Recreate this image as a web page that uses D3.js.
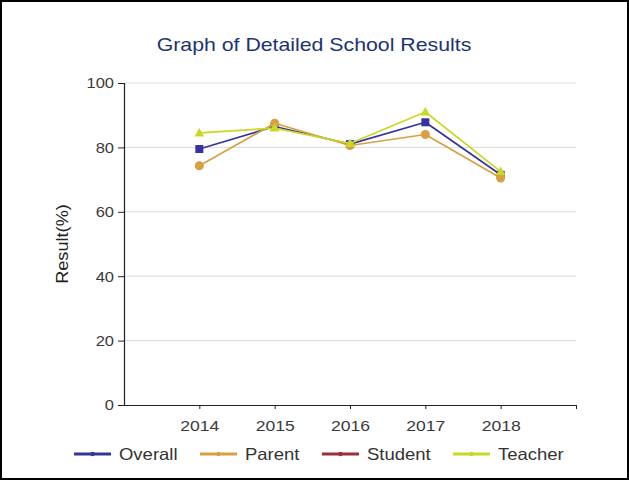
<!DOCTYPE html>
<html>
<head>
<meta charset="utf-8">
<script src="https://cdn.jsdelivr.net/npm/d3@7"></script>
<style>
  html, body { margin: 0; padding: 0; background: #fff; }
  svg { display: block; font-family: "Liberation Sans", Arial, sans-serif; }
</style>
</head>
<body>
<svg id="chart" width="629" height="480"></svg>
<script>
// School survey results by year
const years = [2014, 2015, 2016, 2017, 2018];
const overallValues = [79.5, 86.5, 81, 87.8, 71.5];
const parentValues  = [74.3, 87.5, 80.6, 84, 70.5];
const studentValues = [];
const teacherValues = [84.5, 86, 81.2, 91, 72.5];
const yTicks = [0, 20, 40, 60, 80, 100];
const seriesNames = ["Overall", "Parent", "Student", "Teacher"];
const seriesColors = ["#34349c", "#d9a042", "#9c2f3a", "#c9d824"];
const seriesMarkers = ["square", "circle", "none", "triangle"];

const seriesList = seriesNames.map((name, i) => ({
  name,
  values: [overallValues, parentValues, studentValues, teacherValues][i],
  color: seriesColors[i],
  marker: seriesMarkers[i]
}));

const svg = d3.select("#chart");
const W = 629, H = 480;
const FONT = "Liberation Sans, Arial, sans-serif";

// widen glyphs horizontally by factor k
function widen(sel, k) {
  sel.each(function () {
    const len = this.getComputedTextLength();
    d3.select(this).attr("textLength", len * k).attr("lengthAdjust", "spacingAndGlyphs");
  });
}

// outer frame
svg.append("rect")
  .attr("x", 1).attr("y", 1).attr("width", W - 2).attr("height", H - 2)
  .attr("fill", "#fff").attr("stroke", "#000").attr("stroke-width", 2);

const title = svg.append("text")
  .attr("x", 314).attr("y", 51)
  .attr("text-anchor", "middle")
  .attr("font-size", 18.5)
  .attr("fill", "#1d3371")
  .text("Graph of Detailed School Results");
widen(title, 1.15);

const x = d3.scaleLinear().domain([2013, 2019]).range([124, 576]);
const y = d3.scaleLinear().domain([0, 100]).range([405, 83]);

// horizontal gridlines
svg.append("g")
  .selectAll("line")
  .data(yTicks.filter(t => t > 0))
  .join("line")
  .attr("x1", x(2013)).attr("x2", x(2019))
  .attr("y1", d => y(d)).attr("y2", d => y(d))
  .attr("stroke", "#dcdcdc").attr("stroke-width", 1);

// y axis
const yAxis = svg.append("g")
  .attr("transform", `translate(${x(2013)},0)`)
  .call(d3.axisLeft(y).tickValues(yTicks).tickSize(6).tickPadding(4));
yAxis.select(".domain").attr("stroke", "#222").attr("stroke-width", 1.2);
yAxis.selectAll(".tick line").attr("stroke", "#222");
yAxis.selectAll("text").attr("font-size", 15).attr("fill", "#3a3a3a").attr("font-family", FONT);
widen(yAxis.selectAll("text"), 1.1);

// x axis
const xAxis = svg.append("g")
  .attr("transform", `translate(0,${y(0)})`)
  .call(d3.axisBottom(x)
    .tickValues([2014, 2015, 2016, 2017, 2018, 2019])
    .tickFormat(d => years.includes(d) ? String(d) : "")
    .tickSizeInner(4).tickSizeOuter(0).tickPadding(11));
xAxis.select(".domain").attr("stroke", "#222").attr("stroke-width", 1.2);
xAxis.selectAll(".tick line").attr("stroke", "#222");
xAxis.selectAll("text").attr("font-size", 15).attr("fill", "#3a3a3a").attr("font-family", FONT);
widen(xAxis.selectAll("text"), 1.17);

// y axis title
const yTitle = svg.append("text")
  .attr("transform", `translate(68,${(y(0) + y(100)) / 2}) rotate(-90)`)
  .attr("text-anchor", "middle")
  .attr("font-size", 16.5)
  .attr("fill", "#222")
  .text("Result(%)");
widen(yTitle, 1.1);

const line = d3.line()
  .defined(d => d.v != null)
  .x(d => x(d.year))
  .y(d => y(d.v));

function drawMarker(g, type, color, cx, cy) {
  if (type === "square") {
    g.append("rect").attr("x", cx - 4).attr("y", cy - 4)
      .attr("width", 8).attr("height", 8).attr("fill", color);
  } else if (type === "circle") {
    g.append("circle").attr("cx", cx).attr("cy", cy).attr("r", 4.5).attr("fill", color);
  } else if (type === "triangle") {
    g.append("path")
      .attr("d", `M${cx},${cy - 5}L${cx + 4.8},${cy + 3.5}L${cx - 4.8},${cy + 3.5}Z`)
      .attr("fill", color);
  }
}

const plot = svg.append("g");
seriesList.forEach(s => {
  const pts = s.values.map((v, i) => ({ year: years[i], v }));
  if (!pts.length) return;
  const g = plot.append("g");
  g.append("path").datum(pts)
    .attr("d", line)
    .attr("fill", "none")
    .attr("stroke", s.color)
    .attr("stroke-width", 1.7)
    .attr("stroke-linejoin", "round");
  pts.filter(p => p.v != null).forEach(p => drawMarker(g, s.marker, s.color, x(p.year), y(p.v)));
});

// legend
const legendX = [74, 200, 322, 453];
const legend = svg.append("g");
seriesList.forEach((s, i) => {
  const lx = legendX[i], ly = 454;
  legend.append("line")
    .attr("x1", lx).attr("x2", lx + 37)
    .attr("y1", ly).attr("y2", ly)
    .attr("stroke", s.color).attr("stroke-width", 3);
  legend.append("circle").attr("cx", lx + 18.5).attr("cy", ly).attr("r", 2.2).attr("fill", s.color);
  const t = legend.append("text")
    .attr("x", lx + 45).attr("y", ly + 6)
    .attr("font-size", 16.5)
    .attr("fill", "#333")
    .text(s.name);
  widen(t, 1.12);
});
</script>
</body>
</html>
